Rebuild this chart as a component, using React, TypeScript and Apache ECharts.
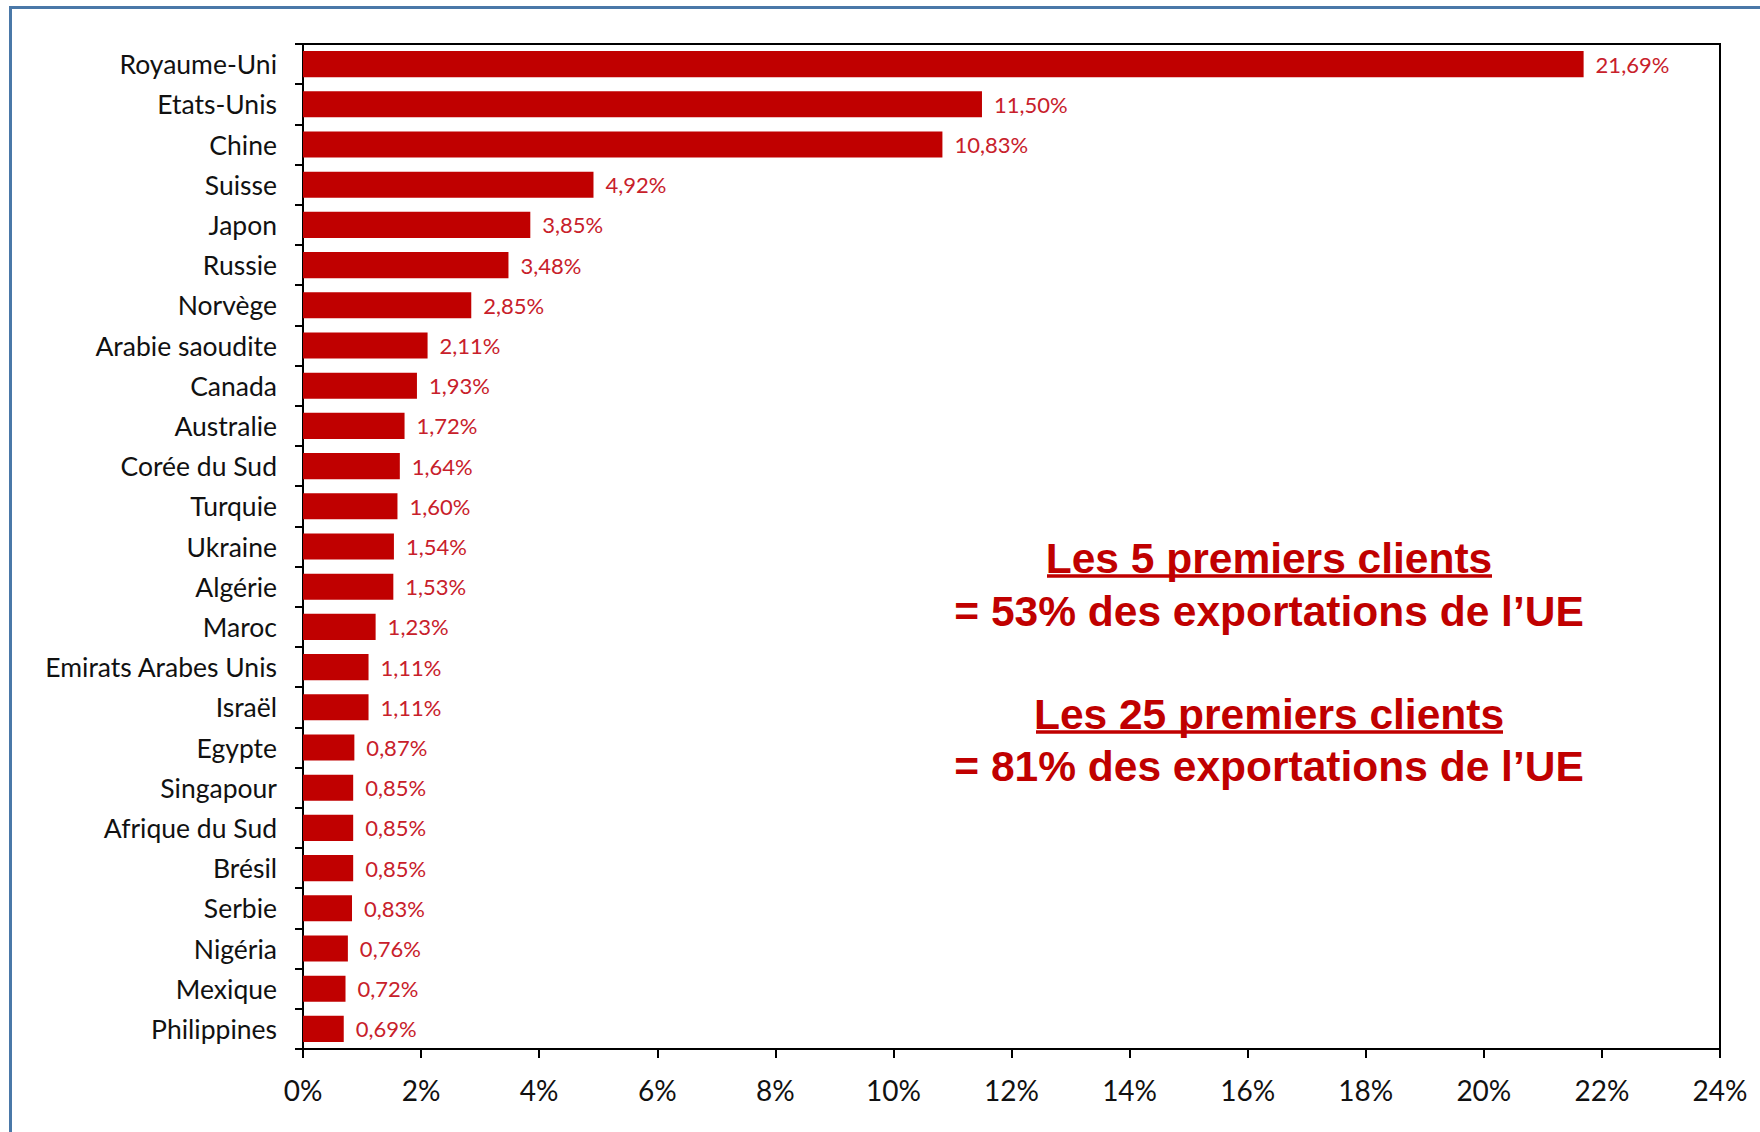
import React, { useEffect, useRef } from "react";
import * as echarts from "echarts";

const categories = [
  "Royaume-Uni", "Etats-Unis", "Chine", "Suisse", "Japon", "Russie", "Norvège",
  "Arabie saoudite", "Canada", "Australie", "Corée du Sud", "Turquie", "Ukraine",
  "Algérie", "Maroc", "Emirats Arabes Unis", "Israël", "Egypte", "Singapour",
  "Afrique du Sud", "Brésil", "Serbie", "Nigéria", "Mexique", "Philippines",
];
const shares = [
  21.69, 11.5, 10.83, 4.92, 3.85, 3.48, 2.85, 2.11, 1.93, 1.72, 1.64, 1.6, 1.54,
  1.53, 1.23, 1.11, 1.11, 0.87, 0.85, 0.85, 0.85, 0.83, 0.76, 0.72, 0.69,
];
const xMin = 0;
const xMax = 24;
const xStep = 2;
const noteLines = [
  "Les 5 premiers clients",
  "= 53% des exportations de l\u2019UE",
  "Les 25 premiers clients",
  "= 81% des exportations de l\u2019UE",
];

const RED = "#c00000";
const LABEL_FONT = "Lato, 'Noto Sans', sans-serif";
const NOTE_FONT = "'Liberation Sans', Arial, sans-serif";

export default function App() {
  const ref = useRef<HTMLDivElement>(null);
  useEffect(() => {
    if (!ref.current) return;
    const chart = echarts.init(ref.current, null, { renderer: "svg" });
    const cx = 1269;
    chart.setOption({
      animation: false,
      backgroundColor: "#ffffff",
      grid: {
        left: 303,
        top: 44,
        right: 40,
        bottom: 83,
        show: true,
        borderColor: "#000",
        borderWidth: 2,
        containLabel: false,
      },
      xAxis: {
        type: "value",
        min: xMin,
        max: xMax,
        interval: xStep,
        splitLine: { show: false },
        axisLine: { show: true, lineStyle: { color: "#000", width: 2 } },
        axisTick: { show: true, length: 9, lineStyle: { color: "#000", width: 2 } },
        axisLabel: {
          margin: 27,
          fontSize: 28,
          fontFamily: LABEL_FONT,
          color: "#111",
          formatter: (v: number) => `${v}%`,
        },
      },
      yAxis: {
        type: "category",
        data: categories,
        inverse: true,
        axisLine: { show: true, lineStyle: { color: "#000", width: 2 } },
        axisTick: { show: true, length: 8, lineStyle: { color: "#000", width: 2 } },
        axisLabel: {
          margin: 26,
          fontSize: 26.5,
          fontFamily: LABEL_FONT,
          color: "#111",
        },
      },
      series: [
        {
          type: "bar",
          data: shares,
          barCategoryGap: "35%",
          itemStyle: { color: RED },
          label: {
            show: true,
            position: "right",
            distance: 12,
            fontSize: 22,
            fontFamily: LABEL_FONT,
            color: "#c8202a",
            formatter: (p: any) => p.value.toFixed(2).replace(".", ",") + "%",
          },
        },
      ],
      graphic: [
        {
          type: "rect",
          shape: { x: 10.5, y: 7.5, width: 1800, height: 1200 },
          style: { fill: "none", stroke: "#4a78a8", lineWidth: 3 },
          silent: true,
        },
        ...[
          { t: noteLines[0], y: 558 },
          { t: noteLines[1], y: 611 },
          { t: noteLines[2], y: 714 },
          { t: noteLines[3], y: 766 },
        ].map((l) => ({
          type: "text",
          x: cx,
          y: l.y,
          style: {
            text: l.t,
            fontSize: 42.5,
            fontWeight: "bold",
            fontFamily: NOTE_FONT,
            fill: RED,
            align: "center",
            verticalAlign: "middle",
          },
        })),
        {
          type: "line",
          shape: { x1: 1047, y1: 576, x2: 1492, y2: 576 },
          style: { stroke: RED, lineWidth: 3.5 },
        },
        {
          type: "line",
          shape: { x1: 1036, y1: 732, x2: 1503, y2: 732 },
          style: { stroke: RED, lineWidth: 3.5 },
        },
      ],
    });
    return () => chart.dispose();
  }, []);
  return (
    <div
      ref={ref}
      style={{ position: "absolute", left: 0, top: 0, width: 1760, height: 1132 }}
    />
  );
}
